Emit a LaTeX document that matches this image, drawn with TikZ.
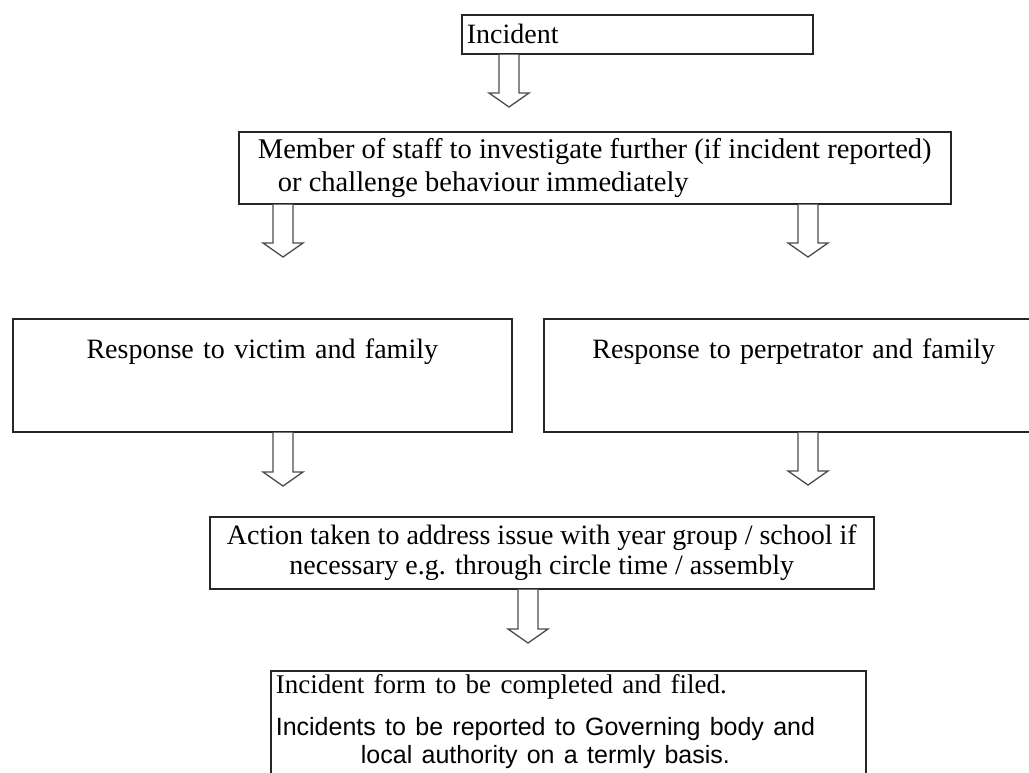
\documentclass[tikz,border=0pt]{standalone}
\usepackage{fontspec}
\setmainfont{Liberation Serif}
\newfontfamily\arialfont{Liberation Sans}
\usetikzlibrary{calc}

% hollow block arrow from the bottom of a box down to a tip
\newcommand{\fatarrow}[2]{%
	\draw[fatline] let \p1=(#1.south -| #2), \p2=(#2) in
	(\x2-10pt,\y1) -- (\x2-10pt,\y2+14pt) -- (\x2-20pt,\y2+14pt) -- (\x2,\y2)
	-- (\x2+20pt,\y2+14pt) -- (\x2+10pt,\y2+14pt) -- (\x2+10pt,\y1);}

\begin{document}
\begin{tikzpicture}[x=1pt,y=-1pt]
	\tikzstyle{stage}=[draw=black!85,line width=1.6pt,fill=white,anchor=north west,inner xsep=5pt,inner ysep=0pt,font=\fontsize{28}{33}\selectfont]
	\tikzstyle{fatline}=[draw=black!70,line width=1.3pt,fill=white,line join=miter]

	\useasboundingbox (0,0) rectangle (1029,772);
	\fill[white] (0,0) rectangle (1029,772);

	\node[stage,text width=341pt,align=left,text height=29pt,text depth=10pt] (inc) at (461,14) {Incident};
	\node[stage,minimum width=712pt,minimum height=72pt,align=left,font=\fontsize{28.5}{33}\selectfont] (staff) at (238,131)
		{Member of staff to investigate further (if incident reported)\\\hspace*{20pt}or challenge behaviour immediately};
	\node[stage,text width=489pt,align=center,text height=40pt,text depth=73pt] (victim) at (12,318) {Response to victim and family};
	\node[stage,text width=490pt,align=center,text height=40pt,text depth=73pt] (perp) at (543,318) {Response to perpetrator and family};
	\node[stage,minimum width=664pt,minimum height=72pt,align=center,font=\fontsize{28}{30}\selectfont] (action) at (209,516)
		{Action taken to address issue with year group / school if\\necessary e.g. through circle time / assembly};
	\node[stage,text width=585pt,inner ysep=4pt] (form) at (270,670)
		{{\raggedright\fontsize{27}{31}\selectfont Incident form to be completed and filed.\par}
		\vspace{14pt}
		{\raggedright\arialfont\fontsize{25}{28}\selectfont
		\begin{tabular}[t]{@{}c@{}}Incidents to be reported to Governing body and\\local authority on a termly basis.\end{tabular}\par}
		\vspace*{20pt}};

	% arrow tips
	\coordinate (t1) at (509,107);
	\coordinate (t2) at (283,257);
	\coordinate (t3) at (808,257);
	\coordinate (t4) at (283,486);
	\coordinate (t5) at (808,485);
	\coordinate (t6) at (528,643);

	\fatarrow{inc}{t1}
	\fatarrow{staff}{t2}
	\fatarrow{staff}{t3}
	\fatarrow{victim}{t4}
	\fatarrow{perp}{t5}
	\fatarrow{action}{t6}
\end{tikzpicture}
\end{document}
